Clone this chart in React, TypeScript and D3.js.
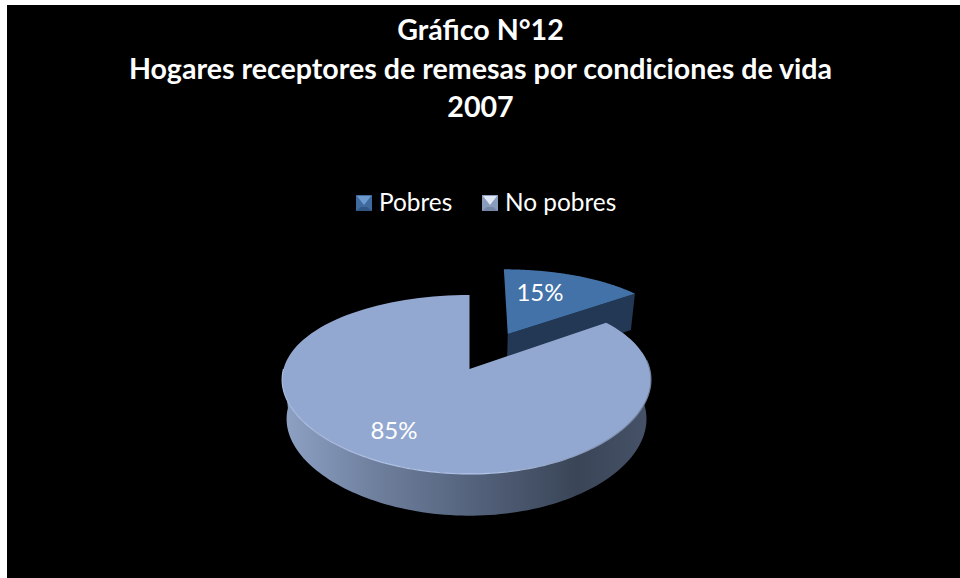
import React from "react";
import * as d3 from "d3";

const titleLines = ["Gráfico N°12", "Hogares receptores de remesas por condiciones de vida", "2007"];
const titleBaselines = [40, 79, 117];
const categories = ["Pobres", "No pobres"];
const values = [15, 85];
const valueLabels = ["15%", "85%"];
const topColors = ["#4272a8", "#93a8d0"];
const legendX = [356, 482];
const labelPos = [[540, 293], [394, 431]];

const W = 960, H = 578;
const X0 = 469.5, Y0 = 369;
const RX = 183, RY = 86.8, KY = 0.173, KX = 0.12, M = 0.016;
const EXPLODE = 0.243;
const DEPTH = 39;
const BASE_SHRINK = 0.024;

type P = [number, number];
// perspective projection of a unit-disk point; apex of the big slice is the origin
function project(u: number, v: number, z = 0): P {
  const wx = 1 - KX * v + M * u;
  const wy = 1 - KY * v;
  const x = X0 + (RX * u) / wx;
  return [466.5 + (x - 466.5) * (1 - BASE_SHRINK * z), Y0 + (RY * v) / wy + z * DEPTH * (1 + 0.07 * v)];
}

const pieGen = d3.pie<number>().value((d) => d).sort(null);
const arcs = pieGen(values);
const bigMid = (arcs[1].startAngle + arcs[1].endAngle) / 2;
const centre: P = [-EXPLODE * Math.sin(bigMid), EXPLODE * Math.cos(bigMid)];

function apex(i: number): P {
  const m = (arcs[i].startAngle + arcs[i].endAngle) / 2;
  return [centre[0] + EXPLODE * Math.sin(m), centre[1] - EXPLODE * Math.cos(m)];
}
function rim(i: number, a: number, z = 0): P {
  const A = apex(i);
  return project(A[0] + Math.sin(a), A[1] - Math.cos(a), z);
}
const line = d3.line<P>();
const arcAngles = (i: number, from = arcs[i].startAngle, to = arcs[i].endAngle) =>
  d3.range(0, 121).map((k) => from + ((to - from) * k) / 120);

function topPath(i: number) {
  const A = apex(i);
  return line([project(A[0], A[1]), ...arcAngles(i).map((a) => rim(i, a))])! + "Z";
}
function sidePath(i: number, from: number, to: number) {
  const t = arcAngles(i, from, to);
  return line([...t.map((a) => rim(i, a)), ...t.slice().reverse().map((a) => rim(i, a, 1))])! + "Z";
}
function cutFace(i: number, a: number) {
  const A = apex(i);
  return line([project(A[0], A[1]), rim(i, a), rim(i, a, 1), project(A[0], A[1], 1)])! + "Z";
}

function Marker({ x, fill, light, dark }: { x: number; fill: string; light: string; dark: string }) {
  const y = 195, s = 16, i = 5;
  return (
    <g>
      <rect x={x} y={y} width={s} height={s} fill={fill} />
      <path d={`M${x + 1},${y + 1}L${x + s - 1},${y + 1}L${x + s / 2},${y + s / 2 + 2}Z`} fill={light} />
      <path d={`M${x},${y + s}L${x + s},${y + s}L${x + s - i},${y + s - i + 1}L${x + i},${y + s - i + 1}Z`} fill={dark} />
    </g>
  );
}

export default function App() {
  const font = "Lato, 'Open Sans', sans-serif";
  const leftmost = (3 * Math.PI) / 2;
  return (
    <svg width={W} height={H} style={{ position: "absolute", left: 0, top: 0, display: "block" }} fontFamily={font}>
      <defs>
        <linearGradient id="bigSide" gradientUnits="userSpaceOnUse" x1={282} x2={651} y1={0} y2={0}>
          <stop offset="0" stopColor="#8ea2c5" />
          <stop offset="0.25" stopColor="#6f809e" />
          <stop offset="0.55" stopColor="#515f78" />
          <stop offset="0.8" stopColor="#3a4557" />
          <stop offset="1" stopColor="#465268" />
        </linearGradient>
        <linearGradient id="rimLight" gradientUnits="userSpaceOnUse" x1={282} x2={651} y1={0} y2={0}>
          <stop offset="0" stopColor="#a9bcdf" />
          <stop offset="0.55" stopColor="#b4c6ea" />
          <stop offset="1" stopColor="#6f809e" />
        </linearGradient>
      </defs>
      <rect width={W} height={H} fill="#ffffff" />
      <rect x={7} y={5} width={W - 7} height={H - 5} fill="#000000" />

      {titleLines.map((t, i) => (
        <text key={t} x={480.5} y={titleBaselines[i]} textAnchor="middle" fontSize={28.6} fontWeight={700} fill="#ffffff">
          {t}
        </text>
      ))}

      {categories.map((c, i) => (
        <g key={c}>
          <Marker
            x={legendX[i]}
            fill={i === 0 ? "#3f6a9e" : "#8a9cbc"}
            light={i === 0 ? "#6d9bd0" : "#dfe6f4"}
            dark={i === 0 ? "#2f5684" : "#7485a5"}
          />
          <text x={legendX[i] + 23} y={211} fontSize={24.4} fill="#ffffff">
            {c}
          </text>
        </g>
      ))}

      {/* small slice */}
      <path d={cutFace(0, arcs[0].endAngle)} fill="#233855" />
      <path d={topPath(0)} fill={topColors[0]} />

      {/* big slice */}
      <path d={sidePath(1, Math.PI / 2 - 0.2, leftmost)} fill="url(#bigSide)" />
      <path d={topPath(1)} fill={topColors[1]} />
      <path
        d={line(arcAngles(1, Math.PI / 2 - 0.1, leftmost).map((a) => rim(1, a)))!}
        fill="none"
        stroke="url(#rimLight)"
        strokeWidth={1.2}
      />

      {valueLabels.map((l, i) => (
        <text key={l} x={labelPos[i][0]} y={labelPos[i][1] + 8} textAnchor="middle" fontSize={24} fill="#ffffff">
          {l}
        </text>
      ))}
    </svg>
  );
}
